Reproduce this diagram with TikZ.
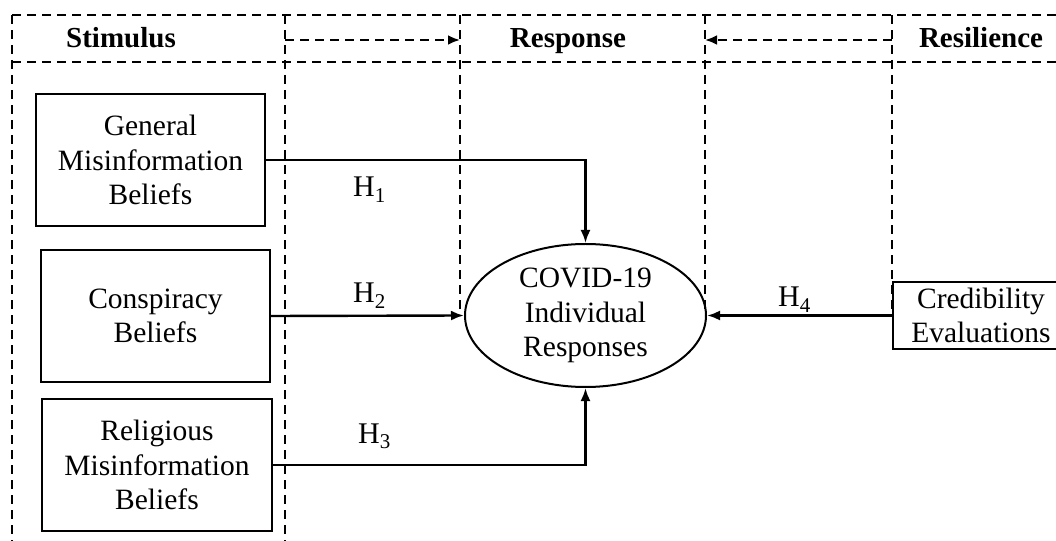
\documentclass[tikz,border=0pt]{standalone}
\usepackage{fontspec}
\setmainfont{Liberation Serif}
\usetikzlibrary{shapes.geometric,arrows.meta}
\newcommand\Hsub[1]{H\textsubscript{#1}}
\tikzset{
  body/.style={font=\fontsize{29.5bp}{34.5bp}\selectfont, align=center},
  head/.style={font=\fontsize{29bp}{34.5bp}\selectfont\bfseries, anchor=base},
  hlab/.style={font=\fontsize{30bp}{34.5bp}\selectfont, anchor=base west, inner sep=0},
  varbox/.style={body, draw, line width=2bp, inner sep=0},
  dline/.style={line width=2.6bp, dash pattern=on 9bp off 6bp},
  conn/.style={line width=2.4bp, -{Latex[length=13bp,width=10bp]}},
  darr/.style={dline, -{Latex[length=12bp,width=10bp]}}
}
\begin{document}
\begin{tikzpicture}[x=1bp,y=-1bp]
\useasboundingbox (0,0) rectangle (1056,541);
\clip (0,0) rectangle (1056,541);
% dashed frame
\coordinate (tl) at (12,15);
\coordinate (tr) at (1060,15);
\coordinate (hl) at (12,62);
\coordinate (hr) at (1060,62);
\draw[dline] (tl) -- (tr);
\draw[dline] (hl) -- (hr);
\draw[dline] (12,15) -- (12,545);
\draw[dline] (285,15) -- (285,545);
\draw[dline] (460,15) -- (460,314);
\draw[dline] (705,15) -- (705,314);
\draw[dline] (892,15) -- (892,314);
% header
\node[head] (hs) at (121,48) {Stimulus};
\node[head] (hp) at (568,48) {Response};
\node[head] (hr2) at (981,48) {Resilience};
\coordinate (a1s) at (285,40);
\coordinate (a1e) at (460,40);
\coordinate (a2s) at (892,40);
\coordinate (a2e) at (705,40);
\draw[darr] (a1s) -- (a1e);
\draw[darr] (a2s) -- (a2e);
% boxes
\node[varbox, minimum width=229bp, minimum height=132bp] (gen) at (150.5,160) {General\\Misinformation\\Beliefs};
\node[varbox, minimum width=229bp, minimum height=132bp] (con) at (155.5,316) {Conspiracy\\Beliefs};
\node[varbox, minimum width=230bp, minimum height=132bp] (rel) at (157,465) {Religious\\Misinformation\\Beliefs};
\node[body, draw, ellipse, line width=2bp, inner sep=0, minimum width=241bp, minimum height=143bp] (resp) at (585.5,315.5) {COVID-19\\Individual\\Responses};
\node[varbox, minimum width=176bp, minimum height=67bp] (cred) at (981,315.5) {Credibility\\Evaluations};
% connectors
\draw[conn] (gen.east) -| (resp.north);
\draw[conn] (con.east) -- (resp.west);
\draw[conn] (rel.east) -| (resp.south);
\draw[conn] (cred.west) -- (resp.east);
% labels
\node[hlab] (h1) at (353,197) {\Hsub{1}};
\node[hlab] (h2) at (353,303) {\Hsub{2}};
\node[hlab] (h3) at (358,443) {\Hsub{3}};
\node[hlab] (h4) at (778,307) {\Hsub{4}};
\end{tikzpicture}
\end{document}
